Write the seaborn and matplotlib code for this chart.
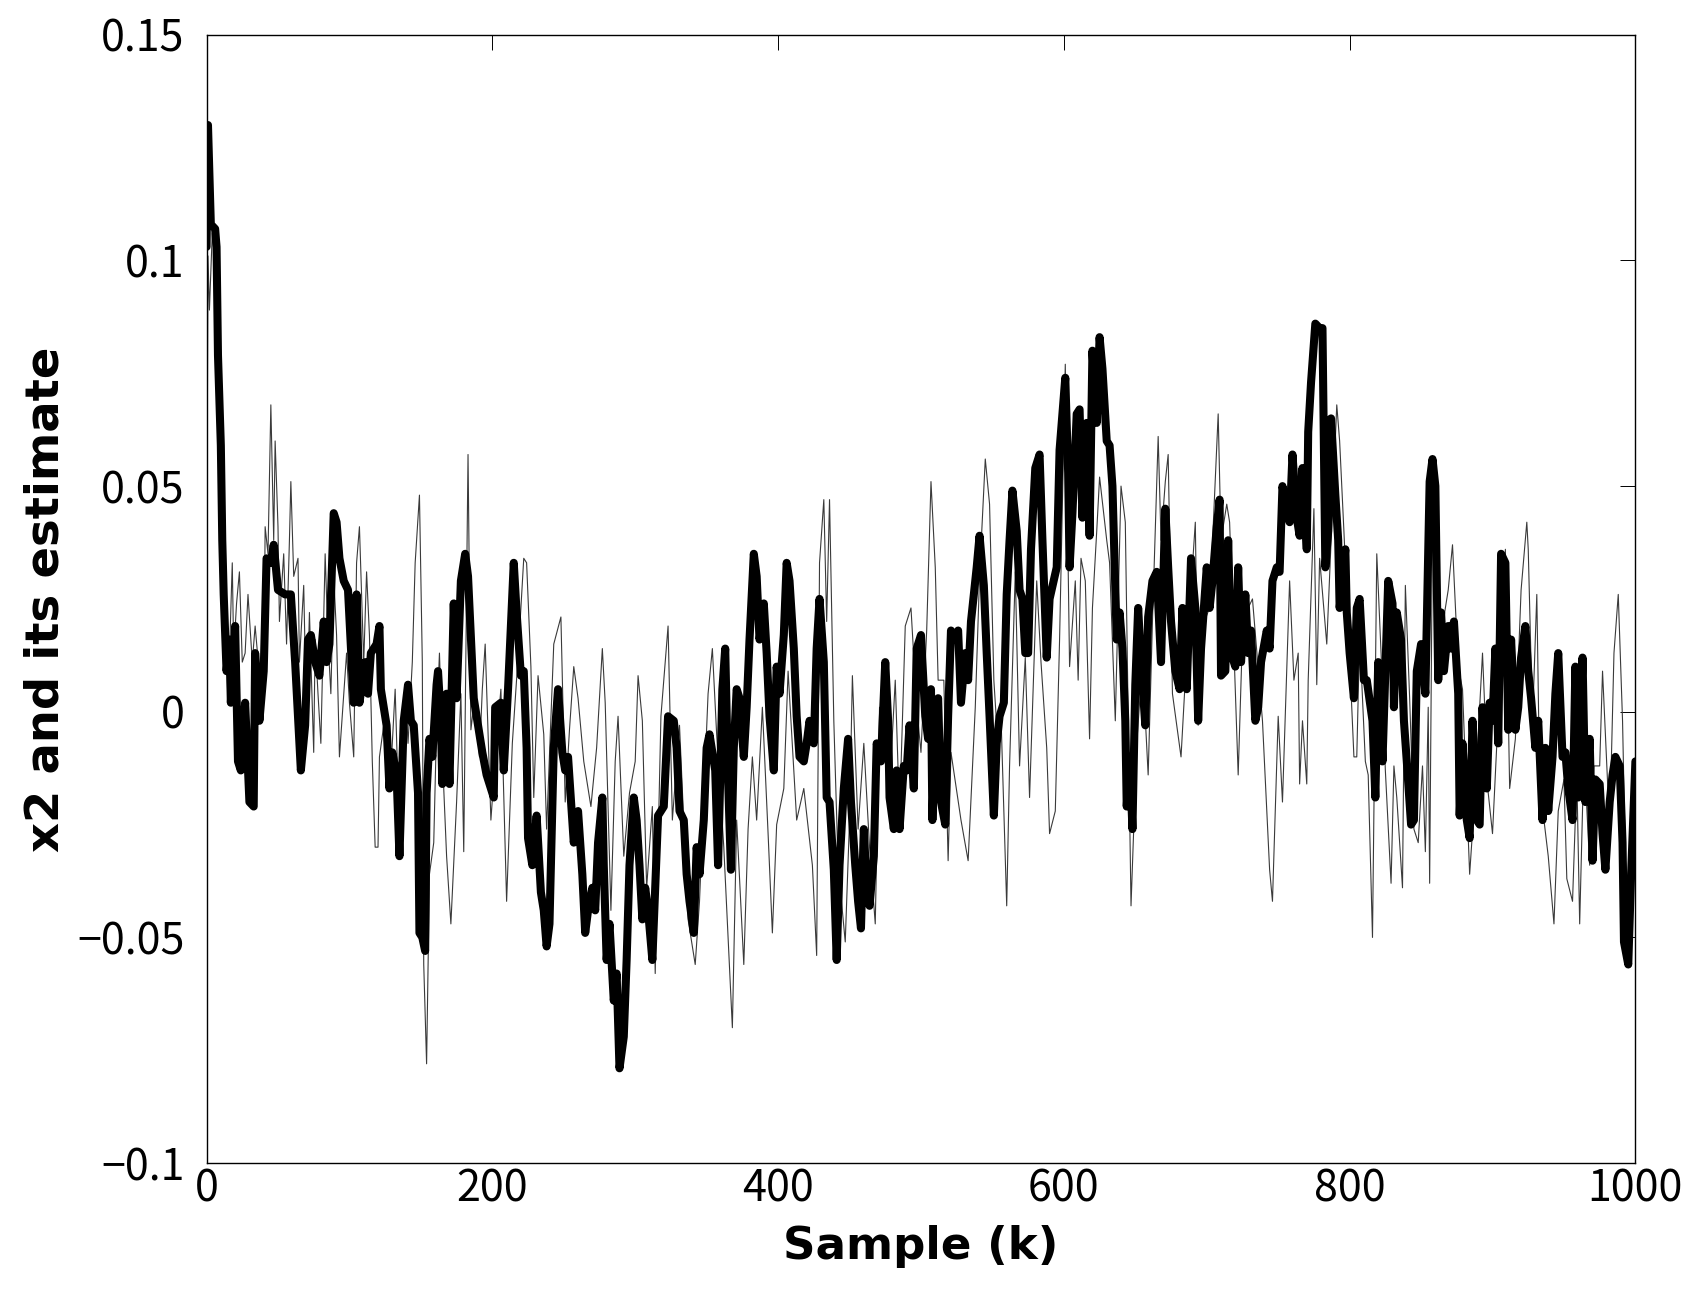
import numpy as np
import pandas as pd
import matplotlib
matplotlib.use('Agg')
import matplotlib.pyplot as plt
import seaborn as sns

# estimate of x2 (thick line): sample index, value
est_k = [0, 1, 3, 6, 7, 8, 10, 11, 12, 14, 16, 17, 20, 22, 24, 27, 30, 33, 34, 37,
         40, 42, 45, 47, 50, 55, 59, 62, 66, 69, 71, 73, 76, 79, 82, 84, 86, 89, 91, 93,
         96, 99, 103, 105, 107, 111, 113, 115, 119, 121, 122, 126, 128, 130, 133, 135, 138, 141, 143, 145,
         148, 149, 151, 153, 154, 156, 158, 161, 162, 164, 165, 168, 170, 173, 175, 178, 181, 183, 187, 189,
         193, 196, 201, 202, 206, 208, 211, 215, 217, 220, 222, 224, 225, 228, 231, 234, 236, 238, 240, 243,
         246, 249, 251, 253, 257, 260, 263, 265, 267, 270, 272, 274, 277, 278, 280, 282, 285, 287, 289, 292,
         294, 296, 299, 301, 303, 305, 307, 309, 312, 314, 316, 320, 323, 327, 329, 331, 334, 336, 338, 341,
         343, 345, 348, 350, 352, 356, 358, 361, 363, 365, 367, 369, 371, 373, 376, 378, 380, 383, 385, 387,
         390, 392, 394, 397, 399, 401, 404, 406, 408, 411, 413, 415, 418, 420, 422, 425, 427, 429, 432, 434,
         436, 439, 441, 443, 446, 449, 451, 454, 456, 458, 460, 462, 464, 467, 469, 472, 475, 477, 478, 481,
         483, 485, 488, 490, 492, 495, 497, 500, 503, 505, 507, 508, 510, 512, 514, 517, 519, 521, 524, 526,
         528, 531, 533, 535, 539, 541, 544, 546, 548, 551, 553, 555, 558, 560, 562, 564, 567, 569, 571, 573,
         575, 577, 580, 583, 585, 588, 590, 595, 597, 601, 603, 604, 606, 609, 611, 613, 616, 618, 620, 623,
         625, 627, 630, 632, 634, 637, 639, 641, 643, 644, 646, 648, 650, 652, 654, 657, 659, 662, 665, 668,
         671, 673, 675, 678, 681, 683, 686, 689, 692, 694, 696, 700, 702, 704, 707, 709, 710, 713, 715, 717,
         720, 722, 724, 727, 729, 731, 734, 736, 738, 742, 744, 746, 749, 751, 753, 756, 758, 760, 763, 765,
         767, 770, 771, 773, 776, 779, 781, 783, 785, 787, 790, 792, 793, 797, 798, 800, 803, 805, 807, 810,
         812, 816, 818, 820, 823, 825, 827, 830, 831, 833, 836, 838, 840, 843, 845, 847, 850, 853, 856, 858,
         860, 862, 864, 866, 869, 871, 873, 876, 877, 879, 882, 884, 886, 889, 891, 893, 896, 898, 900, 902,
         904, 906, 909, 911, 913, 916, 918, 920, 923, 925, 927, 930, 932, 935, 937, 939, 942, 944, 946, 949,
         951, 953, 956, 958, 960, 963, 965, 968, 970, 972, 975, 977, 979, 982, 984, 986, 989, 991, 992, 995,
         997, 1000]
est_v = [0.103, 0.130, 0.108, 0.107, 0.103, 0.079, 0.059, 0.038, 0.026, 0.009, 0.016, 0.002, 0.019, -0.011, -0.013, 0.002, -0.020, -0.021, 0.013, -0.002,
         0.009, 0.034, 0.033, 0.037, 0.027, 0.026, 0.026, 0.011, -0.013, -0.003, 0.016, 0.017, 0.011, 0.008, 0.020, 0.011, 0.015, 0.044, 0.042, 0.034,
         0.029, 0.027, 0.002, 0.026, 0.002, 0.011, 0.004, 0.013, 0.015, 0.019, 0.005, -0.003, -0.017, -0.009, -0.014, -0.032, -0.002, 0.006, -0.002, -0.003,
         -0.018, -0.049, -0.050, -0.053, -0.018, -0.006, -0.010, 0.006, 0.009, -0.002, -0.016, 0.004, -0.016, 0.024, 0.003, 0.029, 0.035, 0.030, 0.003, -0.001,
         -0.009, -0.014, -0.019, 0.001, 0.002, -0.013, 0.005, 0.033, 0.022, 0.008, 0.009, -0.008, -0.028, -0.034, -0.023, -0.040, -0.044, -0.052, -0.047, -0.008,
         0.005, -0.009, -0.013, -0.010, -0.029, -0.022, -0.036, -0.049, -0.044, -0.039, -0.044, -0.029, -0.019, -0.034, -0.055, -0.047, -0.064, -0.058, -0.079, -0.072,
         -0.055, -0.034, -0.019, -0.024, -0.034, -0.046, -0.039, -0.044, -0.055, -0.039, -0.023, -0.021, -0.001, -0.002, -0.008, -0.022, -0.024, -0.036, -0.042, -0.049,
         -0.030, -0.036, -0.024, -0.008, -0.005, -0.013, -0.034, 0.005, 0.014, -0.015, -0.035, -0.008, 0.005, 0.003, -0.010, 0.001, 0.016, 0.035, 0.030, 0.016,
         0.024, 0.013, -0.001, -0.013, 0.010, 0.004, 0.017, 0.033, 0.029, 0.014, -0.001, -0.010, -0.011, -0.007, -0.002, -0.007, 0.014, 0.025, 0.011, -0.019,
         -0.020, -0.035, -0.055, -0.034, -0.017, -0.006, -0.020, -0.034, -0.042, -0.048, -0.026, -0.039, -0.043, -0.032, -0.007, -0.011, 0.011, -0.002, -0.019, -0.026,
         -0.013, -0.026, -0.012, -0.013, -0.003, -0.017, 0.014, 0.017, -0.001, -0.006, 0.005, -0.024, -0.001, 0.003, -0.020, -0.025, -0.001, 0.018, 0.016, 0.018,
         0.002, 0.013, 0.007, 0.020, 0.032, 0.039, 0.028, 0.013, -0.001, -0.023, -0.007, -0.001, 0.002, 0.026, 0.038, 0.049, 0.040, 0.027, 0.025, 0.013,
         0.013, 0.036, 0.054, 0.057, 0.038, 0.012, 0.025, 0.032, 0.058, 0.074, 0.053, 0.032, 0.044, 0.066, 0.067, 0.043, 0.064, 0.039, 0.080, 0.064,
         0.083, 0.076, 0.060, 0.059, 0.050, 0.016, 0.022, 0.014, -0.002, -0.021, -0.010, -0.026, 0.006, 0.023, 0.011, -0.003, 0.021, 0.029, 0.031, 0.011,
         0.045, 0.032, 0.020, 0.009, 0.005, 0.023, 0.005, 0.034, 0.023, -0.002, 0.014, 0.032, 0.023, 0.029, 0.041, 0.047, 0.008, 0.009, 0.038, 0.013,
         0.010, 0.032, 0.011, 0.026, 0.013, 0.018, -0.002, 0.001, 0.011, 0.018, 0.014, 0.029, 0.032, 0.031, 0.050, 0.044, 0.042, 0.057, 0.043, 0.039,
         0.054, 0.036, 0.062, 0.073, 0.086, 0.085, 0.085, 0.032, 0.040, 0.065, 0.048, 0.038, 0.023, 0.036, 0.022, 0.013, 0.003, 0.023, 0.025, 0.007,
         0.007, -0.002, -0.019, 0.011, -0.011, 0.009, 0.029, 0.024, 0.001, 0.022, 0.016, -0.002, -0.011, -0.025, -0.024, 0.009, 0.015, 0.004, 0.051, 0.056,
         0.050, 0.007, 0.022, 0.009, 0.019, 0.014, 0.020, 0.004, -0.023, -0.007, -0.024, -0.028, -0.002, -0.024, -0.025, 0.001, -0.017, 0.002, -0.002, 0.014,
         -0.007, 0.035, 0.033, -0.004, 0.016, -0.004, 0.001, 0.012, 0.019, 0.009, 0.003, -0.008, -0.002, -0.024, -0.008, -0.022, -0.010, 0.004, 0.013, -0.010,
         -0.009, -0.017, -0.024, 0.010, -0.019, 0.012, -0.020, -0.006, -0.033, -0.015, -0.016, -0.027, -0.035, -0.020, -0.014, -0.010, -0.012, -0.029, -0.051, -0.056,
         -0.036, -0.011]

# true x2 (thin line)
true_k = [0, 1, 2, 4, 6, 8, 11, 13, 15, 18, 19, 21, 23, 25, 27, 29, 32, 34, 37, 40,
          41, 43, 45, 47, 48, 50, 51, 54, 56, 58, 59, 61, 64, 65, 68, 70, 72, 75, 76, 78,
          80, 83, 85, 87, 89, 91, 93, 96, 98, 100, 103, 105, 107, 110, 112, 114, 116, 118, 120, 121,
          124, 127, 129, 132, 134, 136, 139, 141, 144, 146, 149, 151, 152, 154, 156, 159, 161, 163, 166, 168,
          171, 175, 178, 180, 183, 185, 188, 191, 193, 195, 199, 203, 206, 210, 214, 218, 222, 224, 227, 229,
          232, 236, 238, 243, 248, 251, 254, 257, 260, 264, 269, 273, 277, 279, 283, 286, 288, 292, 296, 300,
          302, 305, 308, 312, 314, 318, 323, 326, 331, 337, 342, 345, 351, 354, 357, 362, 368, 371, 376, 379,
          382, 385, 389, 393, 396, 399, 404, 407, 413, 418, 424, 427, 429, 432, 434, 436, 439, 442, 447, 450,
          452, 456, 460, 464, 468, 471, 478, 482, 485, 489, 493, 497, 500, 504, 507, 510, 512, 516, 519, 521,
          528, 533, 538, 541, 545, 548, 551, 553, 556, 560, 562, 566, 569, 573, 576, 581, 584, 588, 590, 594,
          597, 601, 604, 608, 610, 612, 615, 618, 620, 623, 625, 630, 632, 636, 640, 643, 647, 651, 655, 659,
          662, 666, 668, 671, 673, 676, 682, 686, 692, 694, 697, 702, 708, 710, 714, 716, 722, 725, 729, 732,
          739, 744, 746, 750, 753, 758, 761, 764, 765, 767, 770, 771, 775, 777, 779, 784, 788, 791, 793, 796,
          799, 803, 805, 807, 811, 813, 816, 819, 822, 825, 829, 831, 833, 837, 839, 842, 845, 848, 851, 853,
          855, 856, 858, 860, 864, 869, 872, 876, 879, 884, 888, 893, 897, 900, 905, 909, 912, 916, 920, 924,
          925, 928, 931, 933, 939, 943, 946, 950, 952, 956, 959, 961, 964, 968, 971, 975, 977, 982, 985, 988,
          991, 993, 996, 998, 1000]
true_v = [0.020, 0.101, 0.089, 0.106, 0.099, 0.073, 0.046, 0.022, 0.002, 0.033, 0.013, 0.024, 0.031, 0.011, 0.013, 0.026, 0.011, 0.019, 0.008, 0.002,
          0.041, 0.035, 0.068, 0.038, 0.060, 0.041, 0.020, 0.035, 0.015, 0.038, 0.051, 0.030, 0.034, 0.011, 0.028, -0.003, 0.022, -0.009, 0.016, 0.004,
          -0.007, 0.035, 0.016, 0.004, 0.030, 0.017, -0.010, 0.004, 0.013, 0.002, -0.010, 0.033, 0.041, 0.011, 0.031, 0.017, -0.011, -0.030, -0.030, -0.010,
          -0.003, -0.007, -0.013, 0.005, -0.017, -0.014, 0.006, -0.007, 0.011, 0.033, 0.048, 0.011, -0.056, -0.078, -0.036, -0.029, -0.003, 0.013, -0.017, -0.032,
          -0.047, -0.020, 0.004, -0.031, 0.057, -0.004, 0.004, -0.010, 0.005, 0.015, -0.024, -0.006, 0.005, -0.042, -0.007, 0.012, 0.034, 0.033, 0.010, -0.019,
          0.008, -0.005, -0.026, 0.015, 0.021, -0.020, -0.004, 0.010, 0.003, -0.011, -0.021, -0.008, 0.014, 0.002, -0.044, -0.011, -0.001, -0.032, -0.018, -0.011,
          0.008, -0.002, -0.039, -0.021, -0.058, -0.001, 0.019, -0.024, -0.003, -0.046, -0.056, -0.042, 0.004, 0.014, -0.005, -0.030, -0.070, -0.024, -0.056, -0.026,
          -0.010, -0.024, 0.001, -0.027, -0.049, -0.025, -0.017, 0.009, -0.024, -0.017, -0.034, -0.054, 0.033, 0.047, 0.020, 0.047, -0.002, -0.034, -0.051, -0.024,
          0.008, -0.026, -0.007, -0.030, -0.047, 0.001, -0.017, 0.007, -0.023, 0.019, 0.023, 0.001, -0.009, 0.018, 0.051, 0.032, 0.007, 0.007, -0.033, -0.009,
          -0.024, -0.033, 0.001, 0.030, 0.056, 0.046, 0.007, -0.003, -0.001, -0.043, -0.012, 0.031, -0.012, 0.012, -0.019, 0.029, 0.011, -0.008, -0.027, -0.022,
          0.016, 0.077, 0.010, 0.029, 0.007, 0.034, 0.029, -0.006, 0.023, 0.040, 0.052, 0.038, 0.033, -0.002, 0.050, 0.042, -0.043, -0.007, 0.011, -0.014,
          0.020, 0.061, 0.038, 0.051, 0.057, 0.004, -0.010, 0.013, 0.042, -0.003, 0.019, 0.023, 0.066, 0.038, 0.046, 0.042, -0.014, 0.017, 0.023, 0.025,
          -0.002, -0.035, -0.042, -0.001, -0.020, 0.029, 0.007, 0.013, -0.016, -0.002, -0.016, 0.007, 0.045, 0.006, 0.034, 0.015, 0.045, 0.068, 0.060, 0.040,
          0.019, -0.010, -0.010, 0.017, -0.011, -0.014, -0.050, 0.035, 0.013, -0.013, -0.038, -0.012, -0.019, -0.039, 0.028, 0.003, -0.026, -0.029, -0.012, -0.031,
          0.001, -0.038, 0.042, 0.023, 0.017, 0.027, 0.037, 0.010, 0.005, -0.036, -0.017, 0.013, -0.018, -0.027, 0.006, 0.036, -0.017, -0.006, 0.027, 0.042,
          0.036, -0.002, 0.026, -0.016, -0.032, -0.047, -0.022, -0.015, -0.037, -0.042, -0.014, -0.047, -0.009, -0.034, -0.012, -0.012, 0.009, -0.026, 0.013, 0.026,
          -0.002, -0.033, -0.041, -0.022, -0.012]

x_ticks = [0, 200, 400, 600, 800, 1000]
y_ticks = [-0.1, -0.05, 0, 0.05, 0.1, 0.15]
y_tick_labels = ['\u22120.1', '\u22120.05', '0', '0.05', '0.1', '0.15']

est_df = pd.DataFrame({'k': est_k, 'x2': est_v})
true_df = pd.DataFrame({'k': true_k, 'x2': true_v})

sns.set_style('white')
plt.rcParams['font.family'] = ['Noto Sans CJK JP', 'DejaVu Sans']
plt.rcParams['xtick.direction'] = 'in'
plt.rcParams['ytick.direction'] = 'in'

fig = plt.figure(figsize=(17, 13.12), dpi=100)
ax = fig.add_axes([0.1215, 0.1135, 0.8405, 0.86])

sns.lineplot(data=true_df, x='k', y='x2', ax=ax, color='#3a3a3a', lw=0.8,
             estimator=None, sort=False)
sns.lineplot(data=est_df, x='k', y='x2', ax=ax, color='black', lw=5.8,
             estimator=None, sort=False, solid_joinstyle='round', solid_capstyle='round')

ax.set_xlim(0, 1000)
ax.set_ylim(-0.1, 0.15)
ax.set_xticks(x_ticks)
ax.set_xticklabels([str(t) for t in x_ticks])
ax.set_yticks(y_ticks)
ax.set_yticklabels(y_tick_labels)

ax.tick_params(which='both', top=True, right=True, length=11, width=0.7,
               labelsize=31, color='black', labelcolor='black')
ax.tick_params(axis='x', pad=3)
ax.tick_params(axis='y', pad=16)
for s in ax.spines.values():
    s.set_visible(True)
    s.set_linewidth(1.0)
    s.set_color('black')

ax.set_xlabel('Sample (k)', fontsize=32.5, fontweight='bold', family='DejaVu Sans',
              color='black', labelpad=10)
ax.set_ylabel('x2 and its estimate', fontsize=33.5, fontweight='bold', family='DejaVu Sans',
              color='black', labelpad=6)

fig.savefig('out.png', dpi=100, facecolor='white')
